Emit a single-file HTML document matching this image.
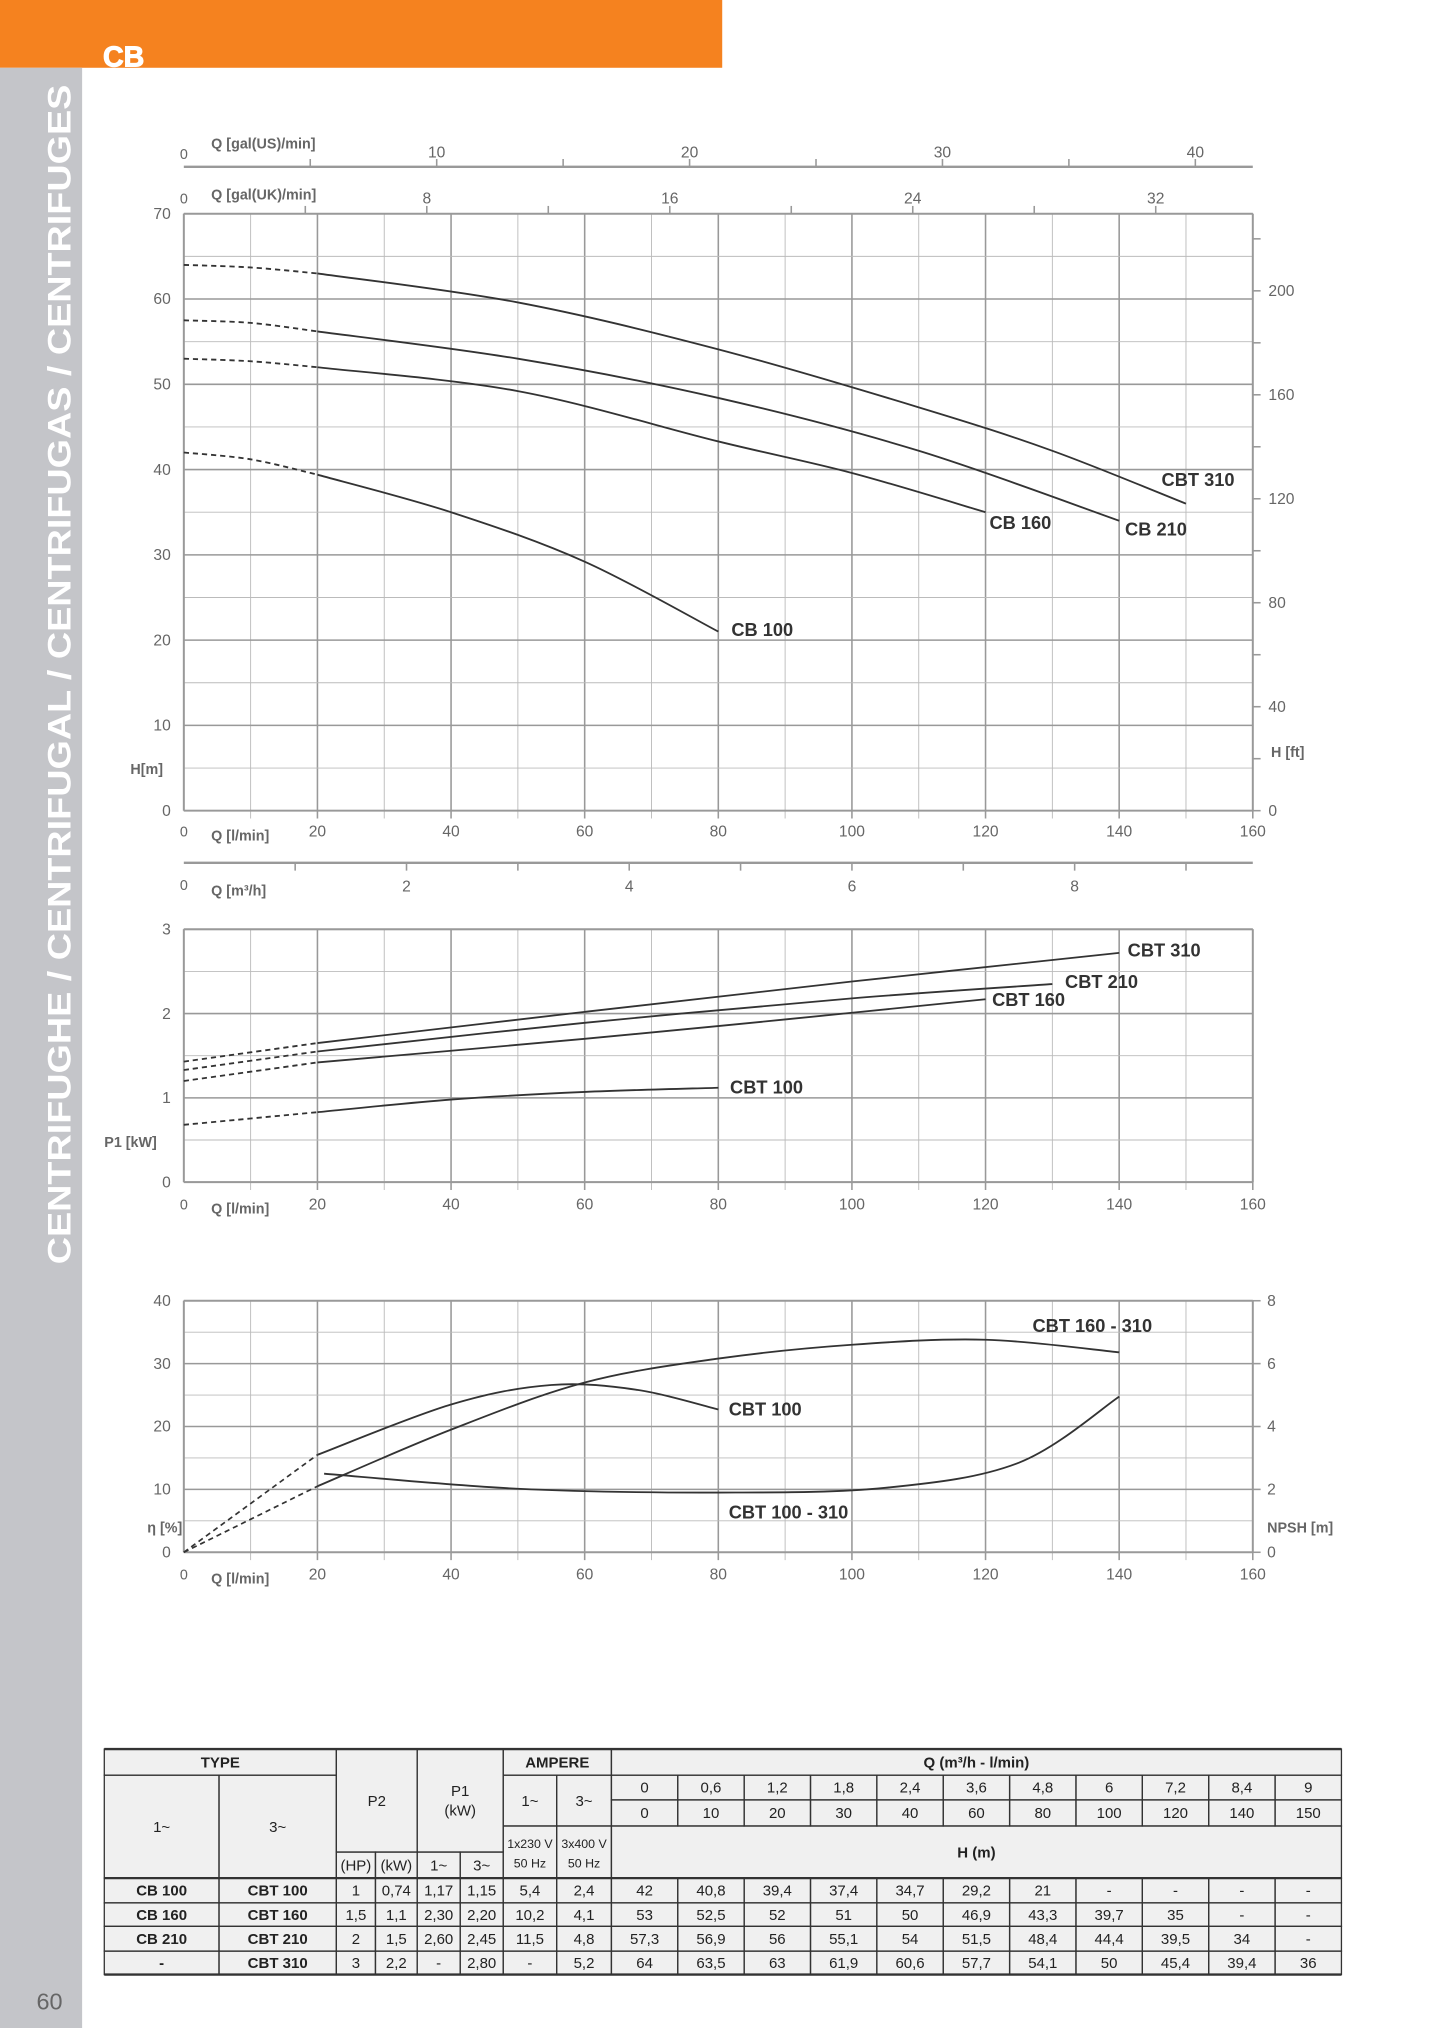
<!DOCTYPE html>
<html><head><meta charset="utf-8"><style>
html,body{margin:0;padding:0;background:#fff}
svg{display:block}
text{font-family:"Liberation Sans",Arial,sans-serif}
</style></head><body>
<svg id="s" xmlns="http://www.w3.org/2000/svg" width="1434" height="2028" viewBox="0 0 1100 1556" preserveAspectRatio="none">
<rect x="0" y="0" width="554" height="52" fill="#F5821F"/>
<text x="79" y="51" font-size="22" font-weight="bold" fill="#fff" stroke="#fff" stroke-width="0.8">CB</text>
<rect x="0" y="52" width="63" height="1504" fill="#C4C5C9"/>
<text transform="translate(54,970) rotate(-90)" font-size="25" font-weight="bold" fill="#fff" textLength="905" lengthAdjust="spacingAndGlyphs">CENTRIFUGHE / CENTRIFUGAL /  CENTRIFUGAS / CENTRIFUGES</text>
<text x="28" y="1542" font-size="18" fill="#666">60</text>
<g id="g"></g>
</svg>
<script>
var g=document.getElementById('g'),h='';
function X(q){return 141+q*5.125;}
function L(x1,y1,x2,y2,c,w,d){h+='<line x1="'+x1+'" y1="'+y1+'" x2="'+x2+'" y2="'+y2+'" stroke="'+c+'" stroke-width="'+w+'"'+(d?' stroke-dasharray="'+d+'"':'')+'/>';}
function T(x,y,s,o){o=o||{};h+='<text x="'+x+'" y="'+y+'" font-size="'+(o.fs||11)+'" fill="'+(o.c||'#666')+'"'+(o.a?' text-anchor="'+o.a+'"':'')+(o.b?' font-weight="bold"':'')+'>'+s+'</text>';}
function curve(pts,dash){var d='M'+pts[0][0]+','+pts[0][1];
 for(var i=0;i<pts.length-1;i++){var p0=pts[i-1]||pts[i],p1=pts[i],p2=pts[i+1],p3=pts[i+2]||p2;
 d+=' C'+(p1[0]+(p2[0]-p0[0])/6)+','+(p1[1]+(p2[1]-p0[1])/6)+' '+(p2[0]-(p3[0]-p1[0])/6)+','+(p2[1]-(p3[1]-p1[1])/6)+' '+p2[0]+','+p2[1];}
 h+='<path d="'+d+'" fill="none" stroke="#333" stroke-width="1.4"'+(dash?' stroke-dasharray="4,3"':'')+'/>';}
function grid(top,bot,nh){
 for(var q=0;q<=160;q+=10){var maj=q%20==0;L(X(q),top,X(q),bot+(q%10==0&&q>0?6:0),maj?'#999':'#bbb',maj?1.2:0.7);}
 for(var i=0;i<=nh;i++){var y=top+(bot-top)*i/nh;var maj=i%2==0;L(141,y,961,y,maj?'#999':'#bbb',maj?1.2:0.7);}
 L(141,top,961,top,'#999',1.5);L(141,bot,961,bot,'#999',1.5);L(141,top,141,bot,'#999',1.5);L(961,top,961,bot,'#999',1.5);
}
function qlabels(y){T(141,y,'0',{a:'middle'});for(var q=20;q<=160;q+=20)T(X(q),y,q,{a:'middle',fs:12});T(162,y+3,'Q [l/min]',{fs:11,b:1});}
var Y1=function(v){return 622-v*6.543;};
grid(164,622,14);
for(var v=0;v<=70;v+=10)T(131,Y1(v)+4,v,{a:'end',fs:12});
qlabels(642);T(100,594,'H[m]',{b:1});
for(var f=0;f<=220;f+=20){var y=Y1(f*0.3048);L(961,y,967,y,'#999',1.2);if(f%40==0)T(973,y+4,f,{fs:12});}
T(975,581,'H [ft]',{b:1});
L(141,128,961,128,'#999',1.8);
for(var gq=5;gq<=40;gq+=5){var x=141+gq*3.785*5.125;L(x,122,x,128,'#999',1.2);if(gq%10==0)T(x,121,gq,{a:'middle',fs:12});}
T(141,122,'0',{a:'middle'});T(162,114,'Q [gal(US)/min]',{b:1});
for(var gq=4;gq<=34;gq+=4){var x=141+gq*4.546*5.125;L(x,158,x,164,'#999',1.2);if(gq%8==0)T(x,156,gq,{a:'middle',fs:12});}
T(141,156,'0',{a:'middle'});T(162,153,'Q [gal(UK)/min]',{b:1});
L(141,662,961,662,'#999',1.8);
for(var m=1;m<=9;m++){var x=141+m*16.667*5.125;L(x,662,x,668,'#999',1.2);if(m%2==0)T(x,684,m,{a:'middle',fs:12});}
T(141,683,'0',{a:'middle'});T(162,687,'Q [m³/h]',{b:1});
function mk(qs,vs,Y,from){var a=[],b=[];for(var i=0;i<qs.length;i++){var p=[X(qs[i]),Y(vs[i])];if(qs[i]<=from)a.push(p);if(qs[i]>=from)b.push(p);}if(a.length>1)curve(a,1);curve(b);}
mk([0,10,20,50,80,110,130,150],[64,63.7,63,59.6,54.1,47.3,42.2,36],Y1,20);
mk([0,10,20,50,80,110,140],[57.5,57.2,56.2,53,48.4,42.2,34],Y1,20);
mk([0,10,20,50,80,100,120],[53,52.7,52,49.2,43.3,39.6,35],Y1,20);
mk([0,10,20,40,60,80],[42,41.2,39.4,35,29.2,21],Y1,20);
T(891,373,'CBT 310',{b:1,fs:14,c:'#333'});T(759,406,'CB 160',{b:1,fs:14,c:'#333'});T(863,411,'CB 210',{b:1,fs:14,c:'#333'});T(561,488,'CB 100',{b:1,fs:14,c:'#333'});
var Y2=function(v){return 907-v*64.67;};
grid(713,907,6);
for(var v=0;v<=3;v++)T(131,Y2(v)+4,v,{a:'end',fs:12});
qlabels(928);T(80,880,'P1 [kW]',{b:1});
mk([0,20,60,100,140],[1.43,1.65,2.02,2.38,2.72],Y2,20);
mk([0,20,60,100,130],[1.33,1.55,1.89,2.18,2.35],Y2,20);
mk([0,20,60,90,120],[1.2,1.42,1.7,1.93,2.17],Y2,20);
mk([0,20,40,60,80],[0.68,0.83,0.98,1.07,1.12],Y2,20);
T(865,734,'CBT 310',{b:1,fs:14,c:'#333'});T(817,758,'CBT 210',{b:1,fs:14,c:'#333'});T(761,772,'CBT 160',{b:1,fs:14,c:'#333'});T(560,839,'CBT 100',{b:1,fs:14,c:'#333'});
var Y3=function(v){return 1191-v*4.825;},YN=function(v){return 1191-v*24.125;};
grid(998,1191,8);
for(var v=0;v<=40;v+=10)T(131,Y3(v)+4,v,{a:'end',fs:12});
for(var v=0;v<=8;v+=2){L(961,YN(v),967,YN(v),'#999',1.2);T(972,YN(v)+4,v,{fs:12});}
qlabels(1212);T(113,1176,'η [%]',{b:1});T(972,1176,'NPSH [m]',{b:1});
L(X(0),Y3(0),X(20),Y3(15.5),'#333',1.3,'4,3');
curve([[X(20),Y3(15.5)],[X(40),Y3(23.5)],[X(55),Y3(26.6)],[X(68),Y3(25.8)],[X(80),Y3(22.7)]]);
L(X(0),Y3(0),X(20),Y3(10.5),'#333',1.3,'4,3');
curve([[X(20),Y3(10.5)],[X(40),Y3(19.5)],[X(60),Y3(27)],[X(80),Y3(30.8)],[X(100),Y3(33)],[X(120),Y3(33.8)],[X(140),Y3(31.8)]]);
curve([[X(21),YN(2.5)],[X(50),YN(2.02)],[X(80),YN(1.9)],[X(105),YN(2.05)],[X(125),YN(2.85)],[X(140),YN(4.95)]]);
T(792,1022,'CBT 160 - 310',{b:1,fs:14,c:'#333'});T(559,1086,'CBT 100',{b:1,fs:14,c:'#333'});T(559,1165,'CBT 100 - 310',{b:1,fs:14,c:'#333'});
var tc='#222',fs=11.5;
h+='<rect x="80" y="1342" width="949" height="173" fill="#f0f0f0"/>';
function R(x1,y1,x2,y2){h+='<rect x="'+x1+'" y="'+y1+'" width="'+(x2-x1)+'" height="'+(y2-y1)+'" fill="none" stroke="#333" stroke-width="1"/>';}
function C(x1,x2,y1,y2,s,b,f){T((x1+x2)/2,(y1+y2)/2+4,s,{a:'middle',c:tc,fs:f||fs,b:b});R(x1,y1,x2,y2);}
C(80,258,1342,1362,'TYPE',1);C(80,168,1362,1441,'1~');C(168,258,1362,1441,'3~');
C(258,320,1342,1421,'P2');R(320,1342,386,1421);T(353,1378,'P1',{a:'middle',c:tc,fs:fs});T(353,1393,'(kW)',{a:'middle',c:tc,fs:fs});
C(258,288,1421,1441,'(HP)');C(288,320,1421,1441,'(kW)');C(320,353,1421,1441,'1~');C(353,386,1421,1441,'3~');
C(386,469,1342,1362,'AMPERE',1);C(386,427,1362,1401,'1~');C(427,469,1362,1401,'3~');
R(386,1401,427,1441);R(427,1401,469,1441);
T(406.5,1418,'1x230 V',{a:'middle',c:tc,fs:9.5});T(406.5,1433,'50 Hz',{a:'middle',c:tc,fs:9.5});
T(448,1418,'3x400 V',{a:'middle',c:tc,fs:9.5});T(448,1433,'50 Hz',{a:'middle',c:tc,fs:9.5});
C(469,1029,1342,1362,'Q (m³/h - l/min)',1);C(469,1029,1401,1441,'H (m)',1);
var cw=560/11,q1=['0','0,6','1,2','1,8','2,4','3,6','4,8','6','7,2','8,4','9'],q2=['0','10','20','30','40','60','80','100','120','140','150'];
for(var i=0;i<11;i++){C(469+i*cw,469+(i+1)*cw,1362,1381,q1[i]);C(469+i*cw,469+(i+1)*cw,1381,1401,q2[i]);}
var rows=[['CB 100','CBT 100','1','0,74','1,17','1,15','5,4','2,4','42','40,8','39,4','37,4','34,7','29,2','21','-','-','-','-'],
['CB 160','CBT 160','1,5','1,1','2,30','2,20','10,2','4,1','53','52,5','52','51','50','46,9','43,3','39,7','35','-','-'],
['CB 210','CBT 210','2','1,5','2,60','2,45','11,5','4,8','57,3','56,9','56','55,1','54','51,5','48,4','44,4','39,5','34','-'],
['-','CBT 310','3','2,2','-','2,80','-','5,2','64','63,5','63','61,9','60,6','57,7','54,1','50','45,4','39,4','36']];
var xs=[80,168,258,288,320,353,386,427,469];for(var i=1;i<=11;i++)xs.push(469+i*cw);
var ys=[1441,1460,1478,1497,1515];
for(var r=0;r<4;r++)for(var c=0;c<19;c++)C(xs[c],xs[c+1],ys[r],ys[r+1],rows[r][c],c<2);
L(80,1342,1029,1342,'#333',1.8);L(80,1441,1029,1441,'#333',1.8);L(80,1515,1029,1515,'#333',1.8);
g.innerHTML=h;
</script>
</body></html>
